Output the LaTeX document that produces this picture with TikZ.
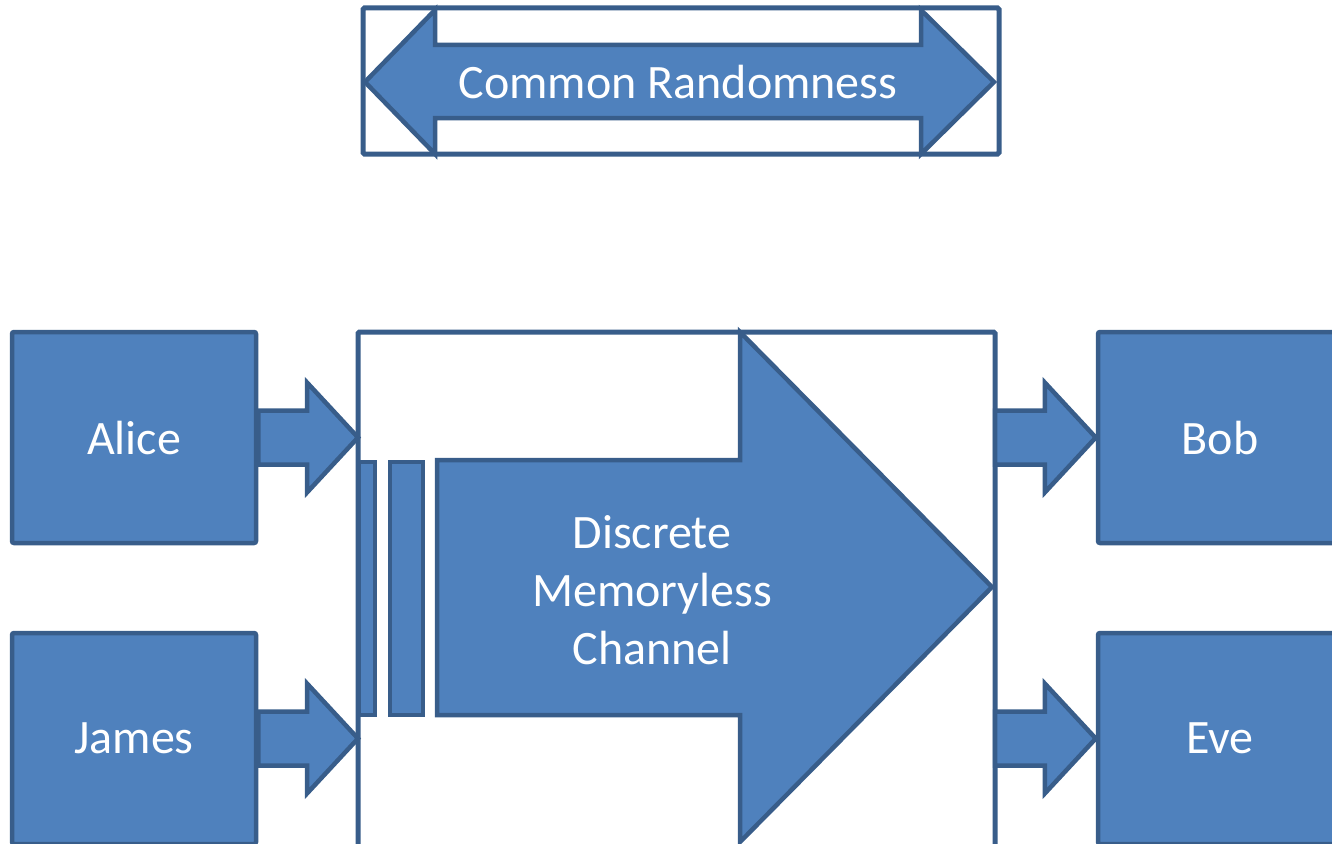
\documentclass[tikz,border=0pt]{standalone}
\usepackage{fontspec}
\setmainfont{Carlito}
\usetikzlibrary{calc}
\definecolor{blkfill}{HTML}{4F81BD}
\definecolor{blkline}{HTML}{385D8A}
% block arrow from #1 to the tip #2 (horizontal)
\newcommand{\Blk}[2]{\path [blk] let \p1=(#1), \p2=(#2) in
  (\x1,\y1+27pt) -- (\x2-51pt,\y1+27pt) -- (\x2-51pt,\y1+55pt) -- (\x2,\y1)
  -- (\x2-51pt,\y1-55pt) -- (\x2-51pt,\y1-27pt) -- (\x1,\y1-27pt) -- cycle;}

\begin{document}
\begin{tikzpicture}
[x=1pt,y=-1pt,
 blk/.style={draw=blkline,fill=blkfill,line width=4.5pt,line join=miter},
 party/.style={blk,rectangle,rounded corners=2pt,minimum width=244pt,
   minimum height=211pt,text=white,font=\fontsize{48}{58}\selectfont},
 frame/.style={draw=blkline,fill=white,line width=5pt,rounded corners=1.5pt},
 label/.style={text=white,font=\fontsize{48}{58}\selectfont,align=center}]

\useasboundingbox (0,0) rectangle (1332,843);
\clip (0,0) rectangle (1332,843);

% common randomness
\draw [frame] (363,8) rectangle (999,154);
\path [blk] (365,82) -- (435,10) -- (435,45) -- (921,45) -- (921,10) -- (994,82)
  -- (921,154) -- (921,118) -- (435,118) -- (435,154) -- cycle;
\node [label] at (678,82) (cr) {Common Randomness};

% channel
\draw [frame] (358,332) rectangle (995,852);
\coordinate (chw) at (358,437);
\coordinate (che) at (995,437);
\path [blk] (359,462) rectangle (375,715);
\path [blk] (390,462) rectangle (423,715);
\path [blk] (437,460) -- (740,460) -- (740,332) -- (992,587) -- (740,842)
  -- (740,715) -- (437,715) -- cycle;
\node [label] at (652,590) (dmc) {Discrete\\Memoryless\\Channel};

% parties
\node [party] at (134,437.5) (alice) {Alice};
\node [party] at (134,738.5) (james) {James};
\node [party] at (1220,437.5) (bob) {Bob};
\node [party] at (1220,738.5) (eve) {Eve};

\Blk{alice.east}{alice.east -| chw}
\Blk{james.east}{james.east -| chw}
\Blk{che |- bob.west}{bob.west}
\Blk{che |- eve.west}{eve.west}
\end{tikzpicture}
\end{document}
